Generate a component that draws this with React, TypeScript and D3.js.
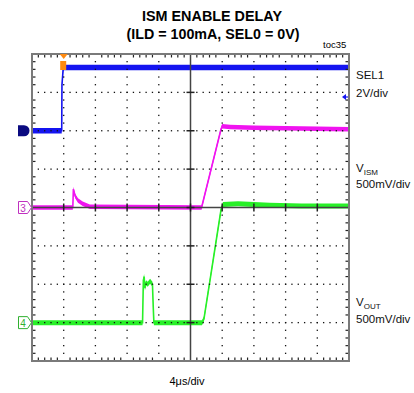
import React from "react";
import * as d3 from "d3";

// Time axis (µs) and screen divisions
const timeDomain = [-4, 36];
const xDivs = 10;
const yDivs = 8;

// Channel settings: offset in divisions, volts per division
const sel1Offset = 2;
const sel1VoltsPerDiv = 2;
const vismOffset = 0;
const vismVoltsPerDiv = 0.5;
const voutOffset = -3;
const voutVoltsPerDiv = 0.5;

// SEL1 (blue)
const sel1T = [-4, -0.25, -0.22, -0.05, 4, 12, 20, 28, 36];
const sel1V = [0, 0, 2.4, 3.3, 3.3, 3.3, 3.3, 3.3, 3.3];

// VISM (magenta)
const vismT = [-4, 1.15, 1.22, 1.45, 1.8, 2.4, 3.3, 17.4, 19.8, 20.0, 21, 24, 30, 36];
const vismV = [0, 0, 0.24, 0.15, 0.09, 0.05, 0.01, 0, 1.0, 1.06, 1.05, 1.04, 1.03, 1.02];

// VOUT (green)
const voutT = [-4, 9.95, 10.05, 10.15, 10.25, 10.4, 10.6, 10.9, 11.2, 11.3, 11.38, 17.45, 17.7, 19.85, 20.1, 22, 26, 30, 36];
const voutV = [0, 0, 0.55, 0.6, 0.45, 0.52, 0.5, 0.54, 0.5, 0.2, 0, 0, 0.05, 1.47, 1.54, 1.55, 1.53, 1.52, 1.52];

const titleLines = ["ISM ENABLE DELAY", "(ILD = 100mA, SEL0 = 0V)"];

const L = 32, R = 349, T = 54, B = 361;

export default function App() {
  const x = d3.scaleLinear().domain(timeDomain).range([L, R]);
  const xd = d3.scaleLinear().domain([0, xDivs]).range([L, R]);
  const yd = d3.scaleLinear().domain([-yDivs / 2, yDivs / 2]).range([B, T]);

  const mk = (ts: number[], vs: number[], off: number, vpd: number) =>
    ts.map((t, i) => ({ x: x(t), y: yd(off + vs[i] / vpd) }));

  const band = (h: number) =>
    d3.area<{ x: number; y: number }>().x((d) => d.x).y0((d) => d.y + h / 2).y1((d) => d.y - h / 2);
  const line = d3.line<{ x: number; y: number }>().x((d) => d.x).y((d) => d.y);

  const traces = [
    { pts: mk(sel1T, sel1V, sel1Offset, sel1VoltsPerDiv), color: "#1414f0", h: 5.5 },
    { pts: mk(vismT, vismV, vismOffset, vismVoltsPerDiv), color: "#f014f0", h: 4.5 },
    { pts: mk(voutT, voutV, voutOffset, voutVoltsPerDiv), color: "#28f028", h: 5 },
  ];

  // grid dots
  const dots: { x: number; y: number }[] = [];
  for (let i = 1; i < xDivs; i++) {
    if (i === xDivs / 2) continue;
    for (let j = 1; j < yDivs * 5; j++) dots.push({ x: xd(i), y: yd(-yDivs / 2 + j / 5) });
  }
  for (let k = -yDivs / 2 + 1; k < yDivs / 2; k++) {
    if (k === 0) continue;
    for (let j = 1; j < xDivs * 5; j++) dots.push({ x: xd(j / 5), y: yd(k) });
  }
  // frame minor ticks
  const hTicks: number[] = [];
  for (let j = 1; j < xDivs * 5; j++) if (j % 5 !== 0) hTicks.push(xd(j / 5));
  const vTicks: number[] = [];
  for (let j = 1; j < yDivs * 5; j++) if (j % 5 !== 0) vTicks.push(yd(-yDivs / 2 + j / 5));
  const majX = d3.range(1, xDivs).map((i) => xd(i));
  const majY = d3.range(-yDivs / 2 + 1, yDivs / 2).map((k) => yd(k));

  const y1 = yd(sel1Offset), y3 = yd(vismOffset), y4 = yd(voutOffset);
  const font = "Liberation Sans, Arial, sans-serif";

  return (
    <svg width={414} height={393} style={{ position: "absolute", left: 0, top: 0, background: "#fff" }}>
      <rect width={414} height={393} fill="#fff" />
      <text x={212} y={21} textAnchor="middle" fontFamily={font} fontWeight="bold" fontSize={14.5} textLength={140} lengthAdjust="spacingAndGlyphs">{titleLines[0]}</text>
      <text x={213} y={38.5} textAnchor="middle" fontFamily={font} fontWeight="bold" fontSize={14.5} textLength={173} lengthAdjust="spacingAndGlyphs">{titleLines[1]}</text>
      <text x={323} y={48} fontFamily={font} fontSize={9.5}>toc35</text>

      {traces.map((tr, i) => (
        <g key={i}>
          <path d={band(tr.h)(tr.pts) || ""} fill={tr.color} />
          <path d={line(tr.pts) || ""} fill="none" stroke={tr.color} strokeWidth={1.6} />
        </g>
      ))}

      {dots.map((d, i) => (
        <rect key={i} x={d.x - 0.65} y={d.y - 0.65} width={1.3} height={1.3} fill="#111" />
      ))}

      {/* center axes */}
      <line x1={xd(5)} x2={xd(5)} y1={T} y2={B} stroke="#444" strokeWidth={1.5} />
      <line x1={L} x2={R} y1={yd(0)} y2={yd(0)} stroke="#444" strokeWidth={1.5} />
      {majY.map((y, i) => (
        <line key={"my" + i} x1={xd(5) - 4} x2={xd(5) + 4} y1={y} y2={y} stroke="#222" strokeWidth={1.5} />
      ))}
      {majX.map((xx, i) => (
        <line key={"mx" + i} x1={xx} x2={xx} y1={yd(0) - 4} y2={yd(0) + 4} stroke="#222" strokeWidth={1.5} />
      ))}

      {/* frame ticks */}
      {hTicks.map((xx, i) => (
        <g key={"h" + i}>
          <line x1={xx} x2={xx} y1={T} y2={T + 3.5} stroke="#222" strokeWidth={1.2} />
          <line x1={xx} x2={xx} y1={B} y2={B - 3.5} stroke="#222" strokeWidth={1.2} />
        </g>
      ))}
      {vTicks.map((y, i) => (
        <g key={"v" + i}>
          <line x1={L} x2={L + 3.5} y1={y} y2={y} stroke="#222" strokeWidth={1.2} />
          <line x1={R} x2={R - 3.5} y1={y} y2={y} stroke="#222" strokeWidth={1.2} />
        </g>
      ))}
      <rect x={L} y={T} width={R - L} height={B - T} fill="none" stroke="#7a7a7a" strokeWidth={2} />

      {/* trigger markers */}
      <path d={`M${x(0) - 4},${T} L${x(0) + 4},${T} L${x(0)},${T + 5} Z`} fill="#ff8a10" />
      <rect x={x(0) - 3.5} y={61} width={6} height={9} fill="#ff8a10" />
      <path d={`M342,97 L346,94 L346,100 Z`} fill="#1414f0" />
      <line x1={345} x2={348} y1={97} y2={97} stroke="#1414f0" strokeWidth={1.2} />

      {/* channel ground markers */}
      <path d={`M18,${y1 - 5.5} h6 a5.5,5.5 0 0 1 0,11 h-6 Z`} fill="#0a0a80" />
      <path d={`M18.5,${y3 - 6} h9 l4,6 l-4,6 h-9 Z`} fill="#fff" stroke="#c030c0" strokeWidth={1} />
      <text x={23} y={y3 + 4} textAnchor="middle" fontFamily={font} fontSize={10} fill="#c030c0">3</text>
      <path d={`M18.5,${y4 - 6} h9 l4,6 l-4,6 h-9 Z`} fill="#fff" stroke="#30b030" strokeWidth={1} />
      <text x={23} y={y4 + 4} textAnchor="middle" fontFamily={font} fontSize={10} fill="#30b030">4</text>

      {/* right labels */}
      <g fontFamily={font} fontSize={11.5} fill="#111">
        <text x={356} y={79}>SEL1</text>
        <text x={356} y={97}>2V/div</text>
        <text x={356} y={172}>V<tspan fontSize={8} dy={3}>ISM</tspan></text>
        <text x={356} y={188}>500mV/div</text>
        <text x={356} y={306}>V<tspan fontSize={8} dy={3}>OUT</tspan></text>
        <text x={356} y={323}>500mV/div</text>
      </g>
      <text x={187} y={385} textAnchor="middle" fontFamily={font} fontSize={11}>4μs/div</text>
    </svg>
  );
}
